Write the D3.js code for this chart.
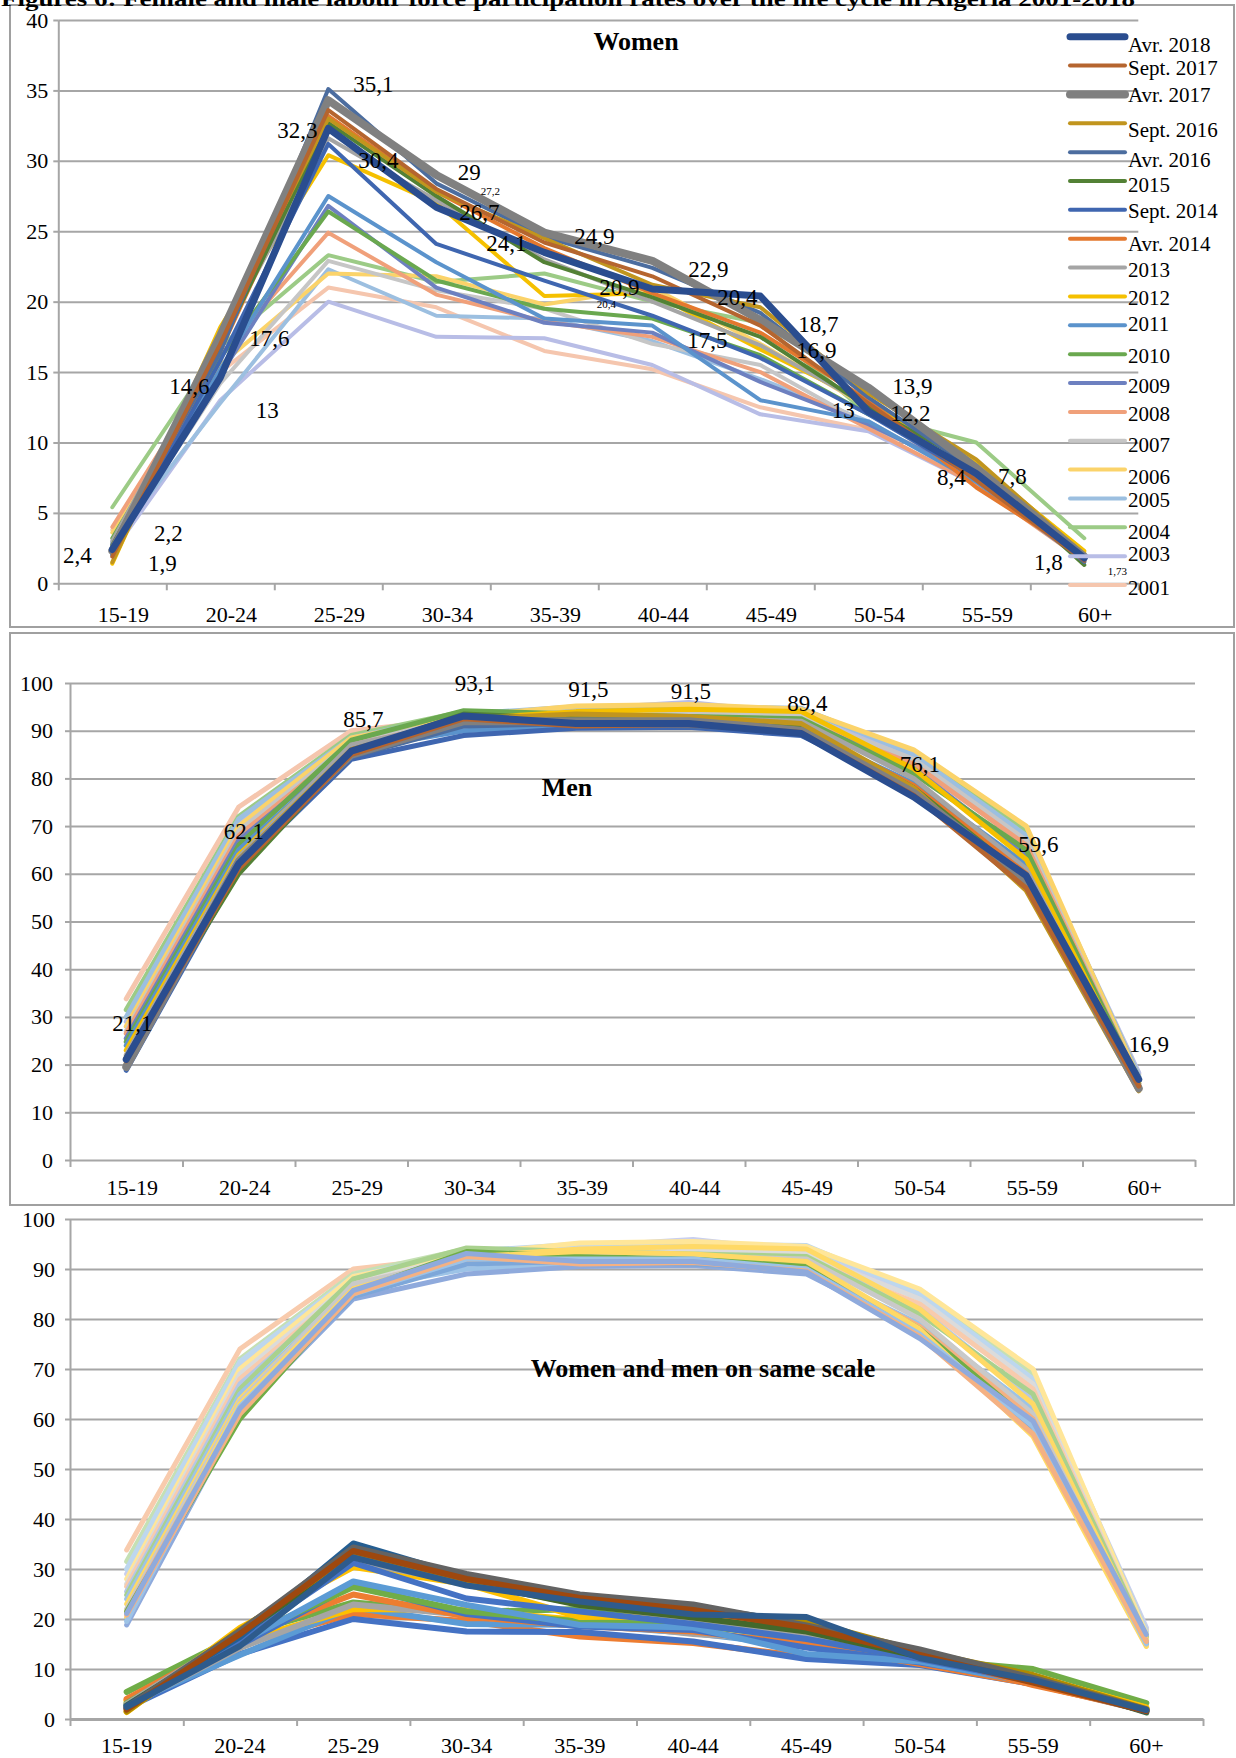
<!DOCTYPE html>
<html>
<head>
<meta charset="utf-8">
<script src="https://cdn.jsdelivr.net/npm/d3@7"></script>
<style>
  body { margin: 0; background: #fff; }
  svg { display: block; }
  text { font-family: "Liberation Serif", "Times New Roman", serif; fill: #000; }
</style>
</head>
<body>
<div id="chart"></div>
<script>
// age groups on the x axis
const ageGroups = ['15-19', '20-24', '25-29', '30-34', '35-39', '40-44', '45-49', '50-54', '55-59', '60+'];

// survey rounds, in legend order
const seriesNames = ['Avr. 2018', 'Sept. 2017', 'Avr. 2017', 'Sept. 2016', 'Avr. 2016', '2015', 'Sept. 2014',
  'Avr. 2014', '2013', '2012', '2011', '2010', '2009', '2008', '2007', '2006', '2005', '2004', '2003', '2001'];

// women participation rates (%), one row per survey round
const womenRates = [
  [2.4, 14.6, 32.3, 26.7, 23.5, 20.9, 20.4, 12.2, 7.8, 1.8],
  [1.9, 17.0, 33.6, 28.0, 24.2, 21.8, 18.3, 12.8, 7.3, 1.6],
  [2.3, 17.6, 34.3, 29.0, 24.9, 22.9, 18.7, 13.9, 8.2, 1.9],
  [1.5, 17.8, 33.0, 27.8, 24.5, 21.2, 19.6, 13.5, 8.8, 2.0],
  [2.6, 16.4, 35.1, 28.4, 24.6, 22.4, 19.2, 13.2, 8.0, 1.5],
  [2.7, 16.8, 32.7, 27.5, 22.8, 20.3, 17.5, 12.5, 8.3, 1.3],
  [2.0, 15.8, 31.2, 24.1, 21.5, 19.0, 16.0, 12.0, 7.5, 1.7],
  [2.2, 16.5, 33.2, 27.8, 23.8, 20.6, 17.8, 13.0, 6.8, 1.9],
  [3.0, 17.2, 31.6, 27.2, 23.0, 20.0, 16.9, 12.6, 7.5, 2.0],
  [1.4, 18.2, 30.4, 27.0, 20.4, 20.6, 16.6, 12.8, 8.5, 2.3],
  [2.1, 15.2, 27.5, 22.8, 18.8, 18.3, 13.0, 11.5, 7.2, 1.6],
  [3.2, 16.0, 26.4, 21.5, 19.5, 18.8, 16.2, 12.0, 8.0, 2.1],
  [2.8, 14.8, 26.8, 21.0, 18.5, 17.8, 14.3, 11.3, 7.6, 1.9],
  [4.0, 16.2, 24.9, 20.5, 18.6, 17.5, 15.0, 11.0, 7.0, 1.6],
  [2.5, 14.2, 22.9, 20.8, 19.5, 17.0, 15.5, 11.2, 7.9, 1.8],
  [3.6, 15.5, 22.0, 21.8, 19.8, 21.0, 17.0, 12.5, 8.6, 2.2],
  [2.9, 12.8, 22.3, 19.0, 18.8, 17.2, 14.5, 11.5, 7.2, 1.6],
  [5.4, 16.8, 23.3, 21.4, 22.0, 20.0, 18.5, 12.0, 10.0, 3.2],
  [2.2, 13.0, 20.0, 17.5, 17.4, 15.5, 12.0, 10.8, 7.0, 1.8],
  [3.8, 15.0, 21.0, 19.6, 16.5, 15.2, 12.5, 10.9, 8.4, 1.73]
];

// men participation rates (%), same row order
const menRates = [
  [21.1, 62.1, 85.7, 93.1, 91.5, 91.5, 89.4, 76.1, 59.6, 16.9],
  [20.8, 61.0, 85.0, 92.5, 91.0, 91.3, 89.6, 76.5, 57.0, 15.5],
  [19.5, 62.5, 85.0, 92.0, 92.0, 92.0, 90.0, 77.0, 58.5, 15.0],
  [20.3, 63.0, 86.0, 92.5, 93.5, 93.0, 91.5, 78.0, 56.5, 14.5],
  [20.0, 61.5, 84.5, 91.0, 91.5, 91.0, 90.0, 77.5, 57.5, 15.2],
  [21.5, 60.0, 85.5, 93.5, 92.5, 92.0, 91.0, 78.0, 59.0, 15.0],
  [18.8, 61.0, 84.0, 89.0, 90.5, 90.7, 89.0, 77.5, 58.0, 15.5],
  [21.5, 62.0, 86.0, 91.5, 92.0, 91.0, 90.5, 78.5, 60.0, 15.0],
  [22.0, 63.5, 87.0, 92.0, 93.0, 92.5, 92.0, 80.0, 61.0, 15.5],
  [23.0, 64.0, 86.5, 92.5, 94.0, 94.5, 94.0, 82.0, 63.0, 16.0],
  [24.0, 65.0, 86.0, 90.0, 91.0, 91.0, 90.0, 79.0, 62.0, 15.5],
  [24.8, 66.0, 88.0, 94.2, 93.5, 93.0, 92.5, 81.0, 65.0, 16.5],
  [25.5, 67.0, 86.5, 91.0, 92.5, 92.0, 92.0, 82.0, 64.0, 16.0],
  [26.5, 68.0, 87.0, 92.0, 93.0, 92.5, 92.0, 83.0, 66.0, 16.5],
  [27.0, 69.0, 87.5, 92.5, 94.0, 94.0, 93.0, 84.0, 67.0, 16.5],
  [28.0, 70.0, 88.5, 93.0, 95.2, 95.5, 94.5, 86.0, 70.0, 17.0],
  [30.0, 71.5, 88.5, 93.5, 95.0, 95.0, 94.7, 85.0, 68.0, 17.5],
  [31.5, 72.0, 89.0, 94.0, 93.5, 93.0, 94.5, 85.5, 69.0, 17.5],
  [29.0, 70.5, 88.0, 92.0, 94.5, 95.9, 93.5, 84.5, 68.5, 18.3],
  [33.8, 74.0, 90.0, 92.5, 94.0, 94.5, 94.0, 84.0, 67.0, 18.0]
];

const womenTicks = [0, 5, 10, 15, 20, 25, 30, 35, 40];
const hundredTicks = [0, 10, 20, 30, 40, 50, 60, 70, 80, 90, 100];

// look of each series
const colors = ['#2a4d8f', '#b5652f', '#808080', '#c1951e', '#4c6d9f', '#538135', '#3f66b0', '#e4782e', '#a5a5a5', '#f5c000',
  '#5b93cc', '#6aa84f', '#6d80c0', '#f0a07a', '#c6c6c6', '#fbd36a', '#9cbfe0', '#9ccb86', '#b8bde6', '#f5c6ae'];
const widths = [7, 4, 8, 4, 4, 4, 4, 4, 4, 4, 4, 4, 4, 4, 4, 4, 4, 4, 4, 4];
const legendTextShift = [15, 9, 7.7, 13.4, 15, 11, 8.3, 12.7, 9, 9, 5.7, 8.7, 10, 9.4, 11, 14, 8.7, 11.7, 5, 10];

// the combined chart uses its own palette: strong for women, pastel for men
const womenMixColors = ['#2e5b8c', '#9e480e', '#636363', '#b08a00', '#255e91', '#43682b', '#4472c4', '#ed7d31', '#a5a5a5', '#ffc000',
  '#5b9bd5', '#70ad47', '#4472c4', '#ed7d31', '#a5a5a5', '#ffc000', '#5b9bd5', '#70ad47', '#4472c4', '#ed7d31'];
const menMixColors = ['#8faadc', '#f4b183', '#9dc3e6', '#ffd966', '#7da7d9', '#70ad47', '#8faadc', '#f4b183', '#c9c9c9', '#ffd966',
  '#9dc3e6', '#a9d18e', '#b4c7e7', '#f8cbad', '#dbdbdb', '#ffe699', '#bdd7ee', '#c5e0b4', '#c9cfee', '#f8cbad'];

// which value gets a written label, and where it sits next to its point
const womenLabels = [
  { s: 'Avr. 2016', a: '25-29', dx: 45, dy: -5 },
  { s: 'Avr. 2018', a: '25-29', dx: -31, dy: 2 },
  { s: '2012', a: '25-29', dx: 50, dy: 5 },
  { s: 'Avr. 2017', a: '30-34', dx: 33, dy: -3 },
  { s: '2013', a: '30-34', dx: 54, dy: -9, small: true },
  { s: 'Avr. 2018', a: '30-34', dx: 43, dy: 5 },
  { s: 'Sept. 2014', a: '30-34', dx: 70, dy: -1 },
  { s: 'Avr. 2017', a: '35-39', dx: 50, dy: 3 },
  { s: 'Avr. 2018', a: '40-44', dx: -33, dy: -2 },
  { s: '2012', a: '35-39', dx: 62, dy: 8, small: true },
  { s: 'Avr. 2017', a: '40-44', dx: 56, dy: 8 },
  { s: 'Avr. 2018', a: '45-49', dx: -23, dy: 1 },
  { s: '2015', a: '45-49', dx: -53, dy: 3 },
  { s: 'Avr. 2017', a: '45-49', dx: 58, dy: 4 },
  { s: '2013', a: '45-49', dx: 56, dy: 5 },
  { s: 'Avr. 2017', a: '50-54', dx: 44, dy: -2 },
  { s: 'Avr. 2018', a: '50-54', dx: 42, dy: 1 },
  { s: '2011', a: '45-49', dx: 83, dy: 10 },
  { s: '2001', a: '55-59', dx: -25, dy: 12 },
  { s: 'Avr. 2018', a: '55-59', dx: 36, dy: 2 },
  { s: 'Avr. 2018', a: '60+', dx: -36, dy: 4 },
  { s: '2001', a: '60+', dx: 33, dy: 12, small: true },
  { s: 'Avr. 2018', a: '15-19', dx: -35, dy: 5 },
  { s: '2003', a: '15-19', dx: 56, dy: -19 },
  { s: 'Sept. 2017', a: '15-19', dx: 50, dy: 6 },
  { s: 'Avr. 2018', a: '20-24', dx: -31, dy: 8 },
  { s: 'Avr. 2017', a: '20-24', dx: 49, dy: 3 },
  { s: '2003', a: '20-24', dx: 47, dy: 10 }
];
const menLabels = [
  { s: 'Avr. 2018', a: '15-19', dx: 6, dy: -36 },
  { s: 'Avr. 2018', a: '20-24', dx: 5, dy: -33 },
  { s: 'Avr. 2018', a: '25-29', dx: 12, dy: -32 },
  { s: 'Avr. 2018', a: '30-34', dx: 11, dy: -33 },
  { s: 'Avr. 2018', a: '35-39', dx: 12, dy: -35 },
  { s: 'Avr. 2018', a: '40-44', dx: 2, dy: -33 },
  { s: 'Avr. 2018', a: '45-49', dx: 6, dy: -31 },
  { s: 'Avr. 2018', a: '50-54', dx: 6, dy: -33 },
  { s: 'Avr. 2018', a: '55-59', dx: 12, dy: -32 },
  { s: 'Avr. 2018', a: '60+', dx: 10, dy: -35 }
];

const W = 1236, H = 1758;
const gridColor = '#a6a6a6';
const fmt = v => String(v).replace('.', ',');

const svg = d3.select('#chart').append('svg')
  .attr('width', W).attr('height', H);

// frames round the first two charts
svg.append('rect').attr('x', 10).attr('y', 5).attr('width', 1224).attr('height', 622)
  .attr('fill', 'none').attr('stroke', '#a0a0a0').attr('stroke-width', 2);
svg.append('rect').attr('x', 10).attr('y', 633).attr('width', 1224).attr('height', 572)
  .attr('fill', 'none').attr('stroke', '#a0a0a0').attr('stroke-width', 2);

// figure caption, cut by the top of the page as in the source
svg.append('text')
  .attr('x', 1).attr('y', 6)
  .attr('textLength', 1134).attr('lengthAdjust', 'spacingAndGlyphs')
  .style('font-size', '21px').style('font-weight', 'bold')
  .text('Figures 6: Female and male labour force participation rates over the life cycle in Algeria 2001-2018');

function drawPanel(cfg) {
  const x = d3.scaleBand().domain(ageGroups).range([cfg.x0, cfg.x1]);
  const y = d3.scaleLinear().domain([0, cfg.max]).range([cfg.y0, cfg.yTop]);
  const g = svg.append('g');

  // horizontal grid
  g.append('g')
    .attr('transform', 'translate(' + cfg.x0 + ',0)')
    .call(d3.axisLeft(y).tickValues(cfg.ticks.slice(1)).tickSize(-(cfg.x1 - cfg.x0)).tickFormat(''))
    .call(s => s.select('.domain').remove())
    .selectAll('line').attr('stroke', gridColor).attr('stroke-width', 2);

  // y axis
  const ya = g.append('g')
    .attr('transform', 'translate(' + cfg.x0 + ',0)')
    .call(d3.axisLeft(y).tickValues(cfg.ticks).tickSize(5).tickPadding(cfg.yPad).tickSizeOuter(0));
  ya.select('.domain').attr('stroke', gridColor).attr('stroke-width', 2);
  ya.selectAll('line').attr('stroke', gridColor).attr('stroke-width', 2);
  ya.selectAll('text').style('font-size', '22px').style('font-family', '"Liberation Serif", serif');

  // x axis: ticks between categories
  const edge = d3.scaleLinear().domain([0, ageGroups.length]).range([cfg.x0, cfg.x1]);
  const xa = g.append('g')
    .attr('transform', 'translate(0,' + cfg.y0 + ')')
    .call(d3.axisBottom(edge).tickValues(d3.range(0, ageGroups.length + 1)).tickSize(7).tickFormat('').tickSizeOuter(0));
  xa.select('.domain').attr('stroke', gridColor).attr('stroke-width', cfg.axisWidth);
  xa.selectAll('line').attr('stroke', gridColor).attr('stroke-width', 2);

  const xl = g.append('g')
    .attr('transform', 'translate(' + cfg.xLabelShift + ',' + cfg.y0 + ')')
    .call(d3.axisBottom(x).tickSize(0).tickPadding(cfg.xPad));
  xl.select('.domain').remove();
  xl.selectAll('text').style('font-size', '22px').style('font-family', '"Liberation Serif", serif');

  // title inside the plot
  g.append('text')
    .attr('x', cfg.titleX).attr('y', cfg.titleY)
    .attr('text-anchor', 'middle')
    .style('font-size', '26px').style('font-weight', 'bold')
    .text(cfg.title);

  const line = d3.line()
    .x((d, i) => x(ageGroups[i]) + x.bandwidth() / 2)
    .y(d => y(d));

  // draw oldest first so the latest rounds sit on top
  cfg.sets.forEach(set => {
    for (let i = seriesNames.length - 1; i >= 0; i--) {
      g.append('path')
        .attr('d', line(set.rows[i]))
        .attr('fill', 'none')
        .attr('stroke', set.color(i))
        .attr('stroke-width', set.width(i))
        .attr('stroke-linejoin', 'round')
        .attr('stroke-linecap', 'round');
    }
  });

  // value labels
  (cfg.labels || []).forEach(l => {
    const si = seriesNames.indexOf(l.s);
    const ai = ageGroups.indexOf(l.a);
    const v = cfg.labelRows[si][ai];
    g.append('text')
      .attr('x', x(l.a) + x.bandwidth() / 2 + l.dx)
      .attr('y', y(v) + l.dy)
      .attr('dy', '0.35em')
      .attr('text-anchor', 'middle')
      .style('font-size', l.small ? '11px' : '23px')
      .text(fmt(v));
  });
  return g;
}

// Women
drawPanel({
  x0: 58.3, x1: 1138.3, y0: 583.3, yTop: 20, max: 40, ticks: womenTicks,
  yPad: 5, xPad: 23, xLabelShift: 11, axisWidth: 2,
  title: 'Women', titleX: 636, titleY: 50,
  sets: [{ rows: womenRates, color: i => colors[i], width: i => widths[i] }],
  labels: womenLabels, labelRows: womenRates
});

// legend of the women chart
const legend = svg.append('g');
seriesNames.forEach((name, i) => {
  const ly = 36.7 + i * 28.86;
  legend.append('line')
    .attr('x1', 1070).attr('x2', 1125).attr('y1', ly).attr('y2', ly)
    .attr('stroke', colors[i]).attr('stroke-width', widths[i])
    .attr('stroke-linecap', 'round');
  legend.append('text')
    .attr('x', 1128).attr('y', ly + legendTextShift[i])
    .style('font-size', '21px')
    .text(name);
});

// Men
drawPanel({
  x0: 70, x1: 1195, y0: 1160, yTop: 683, max: 100, ticks: hundredTicks,
  yPad: 12, xPad: 19, xLabelShift: 6, axisWidth: 2,
  title: 'Men', titleX: 567, titleY: 796,
  sets: [{ rows: menRates, color: i => colors[i], width: i => widths[i] === 4 ? 5 : widths[i] }],
  labels: menLabels, labelRows: menRates
});

// Women and men together
drawPanel({
  x0: 70, x1: 1203, y0: 1719, yTop: 1219, max: 100, ticks: hundredTicks,
  yPad: 10, xPad: 18, xLabelShift: 0, axisWidth: 3,
  title: 'Women and men on same scale', titleX: 703, titleY: 1377,
  sets: [
    { rows: menRates, color: i => menMixColors[i], width: () => 5 },
    { rows: womenRates, color: i => womenMixColors[i], width: () => 6 }
  ]
});
</script>
</body>
</html>
